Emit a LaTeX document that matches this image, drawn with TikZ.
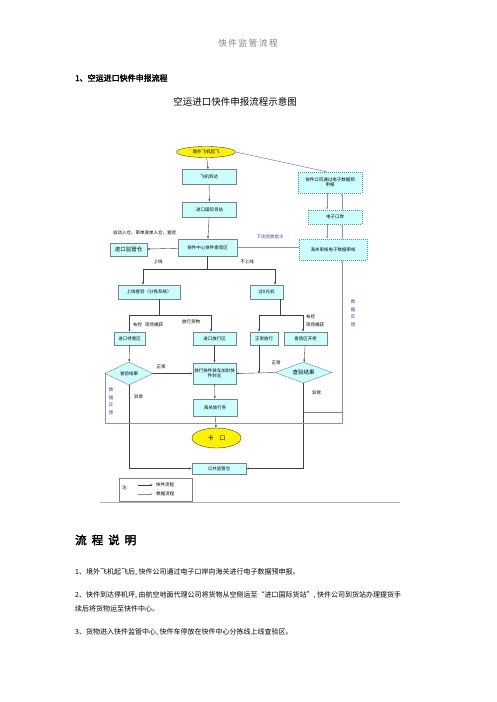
\documentclass[tikz,border=0pt]{standalone}
\usepackage{fontspec}
\setmainfont{Noto Sans CJK SC}[AutoFakeBold=2.5]
\usepackage{xcolor}
\usetikzlibrary{shapes,shapes.geometric,calc,arrows.meta}
\definecolor{boxfill}{HTML}{CCFFFF}
\definecolor{boxline}{HTML}{808080}
\definecolor{flowline}{HTML}{404040}
\definecolor{dataline}{HTML}{8C8CC8}
\definecolor{dashline}{HTML}{4D9999}
\definecolor{txtblue}{HTML}{3C3CA0}
\newcommand{\fsmall}{\fontsize{4.5}{5.5}\selectfont}

\begin{document}
\begin{tikzpicture}[x=1pt,y=-1pt,
  box/.style={draw=boxline,fill=boxfill,inner sep=0pt,font=\fsmall,align=center},
  dbox/.style={box,draw=dashline,dash pattern=on 1pt off 1pt},
  oval/.style={ellipse,draw=flowline,fill=yellow,inner sep=0pt,font=\fsmall},
  check/.style={diamond,draw=boxline,fill=boxfill,inner sep=0pt,shape aspect=2,font=\fsmall},
  flow/.style={draw=flowline,line width=0.4pt,-{Latex[length=2.5pt,width=2pt]}},
  data/.style={draw=dataline,line width=0.6pt,-{Latex[length=2.5pt,width=2pt]}},
  lbl/.style={font=\fsmall,inner sep=0pt}]
\useasboundingbox[fill=white] (0,0) rectangle (496,702);
\node[text=gray,font=\fontsize{8.5}{10}\selectfont\addfontfeature{LetterSpace=20}] (head) at (248,43) {快件监管流程};
\node[anchor=west,font=\fontsize{8}{9}\selectfont\bfseries,inner sep=0pt] (sec) at (75,78) {1、空运进口快件申报流程};
\node[font=\fontsize{9.5}{11}\selectfont,inner sep=0pt] (title) at (235,102) {空运进口快件申报流程示意图};

\node[oval,minimum width=59,minimum height=11] (plane) at (206,152) {境外飞机起飞};
\node[box,minimum width=54,minimum height=15] (arrive) at (209,177) {飞机到达};
\node[box,minimum width=54,minimum height=15] (station) at (209.5,209.5) {进口国际货站};
\node[box,minimum width=59,minimum height=17] (center) at (207.5,247.5) {快件中心快件查验区};
\node[box,minimum width=37,minimum height=13,font=\fontsize{5.5}{6}\selectfont] (bonded) at (128.5,249.5) {进口监管仓};
\node[dbox,minimum width=64,minimum height=21] (predecl) at (330,182.5) {快件公司通过电子数据预\\申报};
\node[dbox,minimum width=54,minimum height=14] (eport) at (335,217) {电子口岸};
\node[dbox,minimum width=68,minimum height=21] (customs) at (333,249.5) {海关审核电子数据审核};
\node[box,minimum width=62,minimum height=14] (online) at (149,292) {上线查验（分拣系统）};
\node[box,minimum width=33,minimum height=14] (xray) at (266.5,292) {过X光机};
\node[box,minimum width=31,minimum height=13] (hold) at (129.5,338.5) {进口待查区};
\node[box,minimum width=43,minimum height=13] (release) at (214.5,338.5) {进口放行区};
\node[box,minimum width=28,minimum height=13] (normal) at (264,338.5) {正常放行};
\node[box,minimum width=43,minimum height=13] (open) at (305.5,338.5) {查验区开柜};
\node[check,minimum width=48,minimum height=23] (resL) at (129,373.5) {查验结果};
\node[box,minimum width=43,minimum height=21] (seal) at (214.5,373.5) {放行快件装车加封快\\件封志};
\node[check,minimum width=57,minimum height=21,font=\fontsize{5.5}{6}\selectfont] (resR) at (303.5,372.5) {查验结果};
\node[box,minimum width=44,minimum height=17] (slip) at (215,407.5) {海关放行条};
\node[oval,minimum width=49,minimum height=20,font=\fontsize{6}{7}\selectfont] (gate) at (216.5,438) {卡\hspace{6pt}口};
\node[box,minimum width=54,minimum height=11] (public) at (219,468.5) {公共监管仓};

\coordinate (dn) at (327,0);
\coordinate (up) at (342,0);
\coordinate (fb) at (342,423);
\coordinate (jn) at (342,412);
\coordinate (nrm) at ([xshift=-5]normal.south);

\draw[flow] (plane) -- (arrive);
\draw[flow] (arrive) -- (station);
\draw[flow] (station) -- (center);
\draw[flow] (center) -- (bonded);
\node[lbl,anchor=west] (auto) at (113,233) {自动入仓、审单逐单入仓、查验};
\draw[data] (plane.east) -- (predecl.north -| dn);
\draw[data] (predecl.south -| dn) -- (eport.north -| dn);
\draw[data] (eport.north -| up) -- (predecl.south -| up);
\draw[data] (eport.south -| dn) -- (customs.north -| dn);
\draw[data] (customs.north -| up) -- (eport.south -| up);
\draw[data] (center.east -| customs.west) -- (center.east);
\node[lbl,text=txtblue] (order) at (270,237) {下达验放指令};

\draw[flow] (center.south) -- ++(0,12.5) -| ([xshift=-6]online.north);
\draw[flow] (center.south) -- ++(0,12.5) -| ([xshift=8.5]xray.north);
\node[lbl] (on) at (158,262) {上线};
\node[lbl] (off) at (247,262) {不上线};

\draw[flow] ([xshift=10]online.south) -- ++(0,16) -| (hold.north);
\draw[flow] ([xshift=10]online.south) -- ++(0,16) -| ([xshift=-3.5]release.north);
\draw[flow] ([xshift=13.5]xray.south) -- ++(0,16) -| ([xshift=-5]normal.north);
\draw[flow] ([xshift=13.5]xray.south) -- ++(0,16) -| ([xshift=-2.5]open.north);
\node[lbl,anchor=west] (ctlL) at (133,325) {布控\hspace{3pt}现场捕获};
\node[lbl,anchor=west] (pass) at (182,322) {放行货物};
\node[lbl,anchor=west] (ctlR) at (306,317) {布控};
\node[lbl,anchor=west] (catchR) at (306,325) {现场捕获};

\draw[flow] (hold) -- (resL);
\draw[flow] (release) -- (seal);
\draw[flow] (open) -- (resR);
\draw[flow] (resL.east) -- (seal.west);
\draw[flow] (resR.west) -- (seal.east);
\draw[flow] (nrm) -- (nrm |- seal.east);
\node[lbl] (okL) at (161,367) {正常};
\node[lbl] (okR) at (276,363) {正常};
\draw[flow] (seal) -- (slip);
\draw[flow] (slip) -- (gate);
\draw[flow] (resL.south) |- (public.west);
\draw[flow] (resR.south) |- (public.east);
\node[lbl,anchor=west] (badL) at (134,397) {异常};
\node[lbl,anchor=west] (badR) at (312,393) {异常};

\draw[data] (resL.west) |- (fb) -- (customs.south -| fb);
\draw[draw=boxline,line width=0.4pt] (jn -| resR.south) -- (jn);
\node[lbl,text=txtblue,align=center,font=\fontsize{4.5}{7.5}\selectfont] (fbL) at (111,401.5) {数\\据\\反\\馈};
\node[lbl,text=txtblue,align=center,font=\fontsize{4.5}{7.5}\selectfont] (fbR) at (353,313.5) {数\\据\\反\\馈};

\draw[draw=boxline,line width=0.4pt] (119,478) rectangle (192,501);
\node[lbl,anchor=west] (note) at (122,488) {注:};
\coordinate (k1) at (138,485);
\coordinate (k2) at (138,494);
\draw[flow] (k1) -- ++(15,0) node[lbl,anchor=west,xshift=3pt] {快件流程};
\draw[data] (k2) -- ++(15,0) node[lbl,anchor=west,xshift=3pt,text=black] {数据流程};
\draw[draw=gray!60,line width=0.6pt] (100,502) -- (400,502);

\node[anchor=west,inner sep=0pt,font=\fontsize{11.5}{13}\selectfont\bfseries] (expl) at (75,540) {流\hspace{5pt}程\hspace{5pt}说\hspace{5pt}明};
\begin{scope}[every node/.style={anchor=west,inner sep=0pt,font=\fontsize{7}{8}\selectfont}]
\node (p1) at (75,572) {1、境外飞机起飞后, 快件公司通过电子口岸向海关进行电子数据预申报。};
\node (p2) at (75,595) {2、快件到达停机坪, 由航空地面代理公司将货物从空侧运至“进口国际货站”, 快件公司到货站办理提货手};
\node (p2b) at (75,609) {续后将货物运至快件中心。};
\node (p3) at (75,632) {3、货物进入快件监管中心, 快件车停放在快件中心分拣线上线查验区。};
\end{scope}
\end{tikzpicture}
\end{document}
